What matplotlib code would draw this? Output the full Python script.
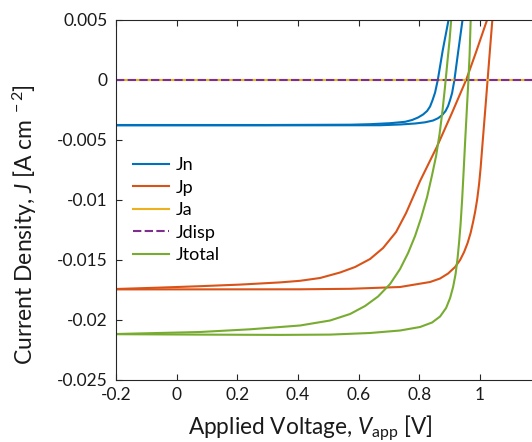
import matplotlib
matplotlib.use("Agg")
import matplotlib.pyplot as plt

plt.rcParams['font.family'] = ['Lato', 'DejaVu Sans']
plt.rcParams['mathtext.fontset'] = 'custom'
plt.rcParams['mathtext.rm'] = 'Lato'
plt.rcParams['mathtext.it'] = 'Lato:italic'

# ---- data ----
jn1_v = [-0.2, 0.3, 0.5718, 0.6377, 0.7037, 0.7532, 0.7763, 0.7960, 0.8125, 0.8257, 0.8356,
         0.8439, 0.8521, 0.8610, 0.8775, 0.8960, 0.9016]
jn1_j = [-0.00375, -0.00375, -0.003725, -0.003683, -0.0036, -0.003483, -0.003333, -0.003125,
         -0.002875, -0.002583, -0.002208, -0.001667, -0.001042, 0.0, 0.0025, 0.004942, 0.005667]

jn2_v = [-0.2, 0.3, 0.6707, 0.7367, 0.7861, 0.8191, 0.8455, 0.8620, 0.8752, 0.8867, 0.8950,
         0.9016, 0.9082, 0.9158, 0.9290, 0.9422, 0.9478]
jn2_j = [-0.00378, -0.00378, -0.00377, -0.003708, -0.003625, -0.003525, -0.003375, -0.003183,
         -0.002933, -0.002583, -0.002167, -0.001667, -0.001083, 0.0, 0.0025, 0.00494, 0.00567]

jp1_v = [-0.2, -0.0549, 0.0770, 0.2090, 0.3409, 0.4069, 0.4728, 0.5388, 0.5883, 0.6377, 0.6806,
         0.7235, 0.7565, 0.8026, 0.8577, 0.9072, 0.9544, 0.9873, 1.0226, 1.0335]
jp1_j = [-0.017417, -0.0173, -0.017183, -0.01705, -0.016867, -0.016733, -0.0165, -0.016042,
         -0.015583, -0.014917, -0.014, -0.012667, -0.011083, -0.008417, -0.005583, -0.002775,
         0.0, 0.002333, 0.00494, 0.00567]

jp2_v = [-0.2, 0.4069, 0.5718, 0.7367, 0.8356, 0.8686, 0.8950, 0.9181, 0.9346, 0.9478, 0.9593,
         0.9692, 0.9774, 0.9840, 0.9906, 0.9972, 1.0022, 1.0071, 1.0137, 1.0203, 1.0269, 1.0335,
         1.0401, 1.0467]
jp2_j = [-0.01745, -0.017442, -0.0174, -0.01725, -0.016833, -0.016542, -0.016125, -0.015583,
         -0.015, -0.014333, -0.013583, -0.01275, -0.011833, -0.011, -0.01, -0.008667, -0.007333,
         -0.00575, -0.003667, -0.001583, 0.000542, 0.002667, 0.00475, 0.006833]

jt1_v = [-0.2, 0.0770, 0.2420, 0.4069, 0.5058, 0.5718, 0.6212, 0.6641, 0.7037, 0.7367, 0.7631,
         0.7861, 0.8059, 0.8257, 0.8422, 0.8554, 0.8669, 0.8768, 0.8851, 0.8933, 0.8999, 0.9049,
         0.9098]
jt1_j = [-0.021167, -0.021, -0.020775, -0.020458, -0.020042, -0.0195, -0.018833, -0.018042,
         -0.017, -0.01575, -0.014417, -0.013, -0.0115, -0.00975, -0.007917, -0.006333, -0.0045,
         -0.0025, -0.0005, 0.001667, 0.003333, 0.004942, 0.0065]

jt2_v = [-0.2, 0.0770, 0.3409, 0.5058, 0.6377, 0.7367, 0.8026, 0.8422, 0.8686, 0.8884, 0.9016,
         0.9115, 0.9197, 0.9263, 0.9313, 0.9362, 0.9412, 0.9461, 0.9511, 0.9560, 0.9620, 0.9659,
         0.9692, 0.9725]
jt2_j = [-0.021183, -0.021217, -0.021242, -0.021217, -0.021083, -0.020875, -0.020583, -0.020208,
         -0.019708, -0.019, -0.018167, -0.01725, -0.016167, -0.014833, -0.0135, -0.012, -0.01,
         -0.007667, -0.005167, -0.002833, 0.0, 0.002083, 0.004833, 0.006]

ja_v = [-0.2, 1.2]
ja_j = [0.0, 0.0]
jd_v = [-0.2, 1.2]
jd_j = [0.0, 0.0]

xticks = [-0.2, 0, 0.2, 0.4, 0.6, 0.8, 1]
xticklabels = ['-0.2', '0', '0.2', '0.4', '0.6', '0.8', '1']
yticks = [0.005, 0, -0.005, -0.01, -0.015, -0.02, -0.025]
yticklabels = ['0.005', '0', '-0.005', '-0.01', '-0.015', '-0.02', '-0.025']

C_BLUE = '#0072BD'
C_ORANGE = '#D95319'
C_YELLOW = '#EDB120'
C_PURPLE = '#7E2F8E'
C_GREEN = '#77AC30'

W, H = 532, 442
fig = plt.figure(figsize=(W / 100, H / 100), dpi=100)
left, right, top, bottom = 116, 540.6, 20, 380
ax = fig.add_axes([left / W, 1 - bottom / H, (right - left) / W, (bottom - top) / H])

lw = 1.5
ax.plot(jn1_v, jn1_j, color=C_BLUE, lw=lw, label='Jn')
ax.plot(jn2_v, jn2_j, color=C_BLUE, lw=lw)
ax.plot(jp1_v, jp1_j, color=C_ORANGE, lw=lw, label='Jp')
ax.plot(jp2_v, jp2_j, color=C_ORANGE, lw=lw)
ax.plot(ja_v, ja_j, color=C_YELLOW, lw=lw, label='Ja')
ax.plot(jd_v, jd_j, color=C_PURPLE, lw=lw, ls=(0, (4, 1.6)), label='Jdisp')
ax.plot(jt1_v, jt1_j, color=C_GREEN, lw=lw, label='Jtotal')
ax.plot(jt2_v, jt2_j, color=C_GREEN, lw=lw)

ax.set_xlim(-0.2, 1.2)
ax.set_ylim(-0.025, 0.005)
ax.set_xticks(xticks + [1.2])
ax.set_xticklabels(xticklabels + [''])
ax.set_yticks(yticks)
ax.set_yticklabels(yticklabels)

axc = '#262626'
for s in ax.spines.values():
    s.set_color(axc)
    s.set_linewidth(0.8)
ax.tick_params(direction='in', length=4, width=0.8, colors=axc, labelsize=12.5,
               top=True, right=True, labelcolor='#1a1a1a')
ax.tick_params(axis='y', pad=6)
ax.tick_params(axis='x', pad=5)

ax.set_xlabel('Applied Voltage, $V_{\\mathrm{app}}$ [V]', fontsize=16.3, color='#1a1a1a')
ax.set_ylabel('Current Density, $J$ [A cm$^{\\ -2}$]', fontsize=16.5, color='#1a1a1a')
# label positions as placed in the reference (pixel positions converted to axes fraction)
ax.xaxis.set_label_coords((310 - left) / (right - left), -(413 - bottom) / (bottom - top))
ax.yaxis.set_label_coords(-(116 - 39) / (right - left), (bottom - 225) / (bottom - top))

leg = ax.legend(loc='upper left', bbox_to_anchor=(133 / W, 1 - 157 / H),
                bbox_transform=fig.transFigure, frameon=False, fontsize=13,
                handlelength=2.0, handletextpad=0.35, labelspacing=0.36,
                borderaxespad=0, borderpad=0)

fig.savefig('out.png', dpi=100)
